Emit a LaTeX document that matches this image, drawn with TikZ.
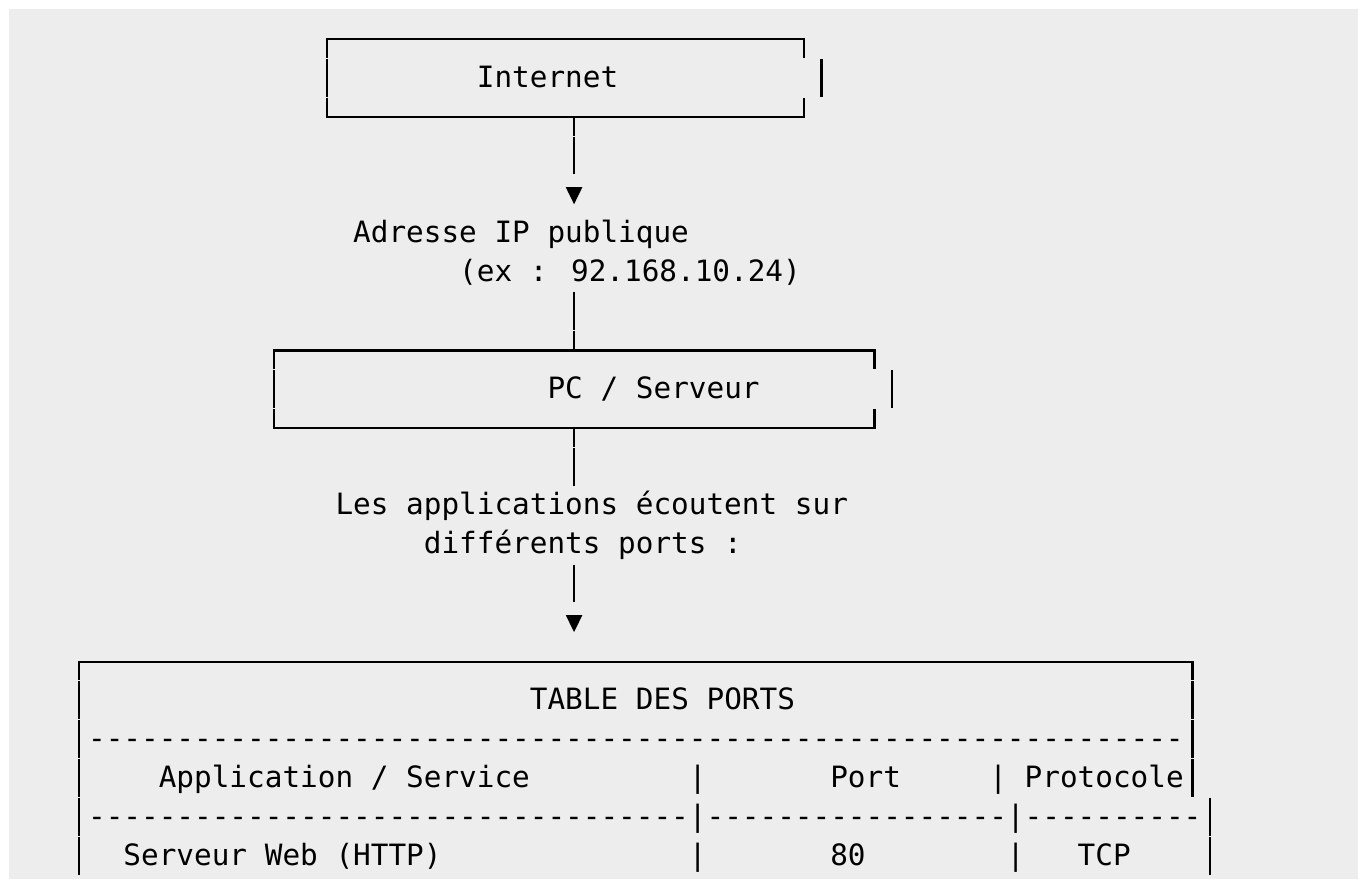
\documentclass[tikz,border=0pt]{standalone}
\usepackage{fontspec}
\newfontfamily\dvsmono{DejaVu Sans Mono}
\definecolor{bgray}{RGB}{237,237,237}
% grid helpers (pixel units, y downward)
\newcommand\cx[1]{(79.3+17.67*(#1))}
\newcommand\tlx[1]{(70.47+17.67*(#1))}
\newcommand\hy[1]{(39.3+38.9*(#1))}
\newcommand\by[1]{(48.1+38.9*(#1))}
\newcount\dcnt
\newcommand\dashrun[1]{\dcnt=#1\relax\loop\ifnum\dcnt>0 \mbox{-}\advance\dcnt by -1 \repeat}
\tikzset{
  txt/.style={inner sep=0pt, outer sep=0pt, anchor=base west,
              font=\dvsmono\fontsize{14.675pt}{17pt}\selectfont, text=black},
  bx/.style={line width=1.1pt, draw=black, line cap=butt, line join=miter},
  tri/.style={fill=black},
}
\newcommand\vseg[2]{\draw[bx] ({\cx{#1}},{\hy{#2}-19.4}) -- ({\cx{#1}},{\hy{#2}+18.4});}
\newcommand\downtri[2]{\fill[tri] ({\cx{#1}-8.3},{\by{#2}-16.5}) -- ({\cx{#1}+8.3},{\by{#2}-16.5}) -- ({\cx{#1}},{\by{#2}+0.5}) -- cycle;}
\newcommand\txtat[4]{\node[txt] (#1) at ({\tlx{#2}},{\by{#3}}) {#4};}
% box: #1 left col, #2 right col, #3 top row (3 rows), #4 extra bar col
\newcommand\asciibox[4]{%
  \draw[bx] ({\cx{#1}},{\hy{#3}+18.4}) -- ({\cx{#1}},{\hy{#3}}) -- ({\cx{#2}},{\hy{#3}}) -- ({\cx{#2}},{\hy{#3}+18.4});
  \vseg{#1}{#3+1}
  \vseg{#4}{#3+1}
  \draw[bx] ({\cx{#1}},{\hy{#3+2}-19.4}) -- ({\cx{#1}},{\hy{#3+2}}) -- ({\cx{#2}},{\hy{#3+2}}) -- ({\cx{#2}},{\hy{#3+2}-19.4});
}
\begin{document}
\begin{tikzpicture}[x=0.5pt,y=-0.5pt]
\useasboundingbox (0,0) rectangle (1358,879);
\fill[white] (0,0) rectangle (1358,879);
\fill[bgray] (9,9) rectangle (1358,879);
\begin{scope}
\clip (9,9) rectangle (1358,879);
% Internet box
\asciibox{14}{41}{0}{42}
\txtat{internet}{23}{1}{Internet}
% connector Internet -> IP
\coordinate (inetS) at ({\cx{28}},{\hy{2}});
\draw[bx] (inetS) -- ++(0,18.4);
\vseg{28}{3}
\downtri{28}{4}
\txtat{ip}{16}{5}{Adresse IP publique}
\txtat{ipex}{22}{6}{(ex : 92.168.10.24)}
% connector IP -> PC
\vseg{28}{7}
\coordinate (pcN) at ({\cx{28}},{\hy{8}});
\draw[bx] (pcN) -- ++(0,-19.4);
% PC box
\asciibox{11}{45}{8}{46}
\txtat{pc}{27}{9}{PC / Serveur}
% connector PC -> table
\coordinate (pcS) at ({\cx{28}},{\hy{10}});
\draw[bx] (pcS) -- ++(0,18.4);
\vseg{28}{11}
\txtat{apps}{15}{12}{Les applications écoutent sur}
\txtat{apps2}{20}{13}{différents ports :}
\vseg{28}{14}
\downtri{28}{15}
% Table
\draw[bx] ({\cx{0}},{\hy{16}+18.4}) -- ({\cx{0}},{\hy{16}}) -- ({\cx{63}},{\hy{16}}) -- ({\cx{63}},{\hy{16}+18.4});
\foreach \r in {17,...,21} {\vseg{0}{\r}}
\foreach \r in {17,18,19} {\vseg{63}{\r}}
\foreach \r in {20,21} {\vseg{64}{\r}}
\txtat{title}{26}{17}{TABLE DES PORTS}
\txtat{dash1}{1}{18}{\dashrun{62}}
\txtat{hApp}{5}{19}{Application / Service}
\txtat{hs1}{35}{19}{|}
\txtat{hPort}{43}{19}{Port}
\txtat{hs2}{52}{19}{|}
\txtat{hProto}{54}{19}{Protocole}
\txtat{dash2a}{1}{20}{\dashrun{34}}
\txtat{ds1}{35}{20}{|}
\txtat{dash2b}{36}{20}{\dashrun{17}}
\txtat{ds2}{53}{20}{|}
\txtat{dash2c}{54}{20}{\dashrun{10}}
\txtat{rApp}{3}{21}{Serveur Web (HTTP)}
\txtat{rs1}{35}{21}{|}
\txtat{rPort}{43}{21}{80}
\txtat{rs2}{53}{21}{|}
\txtat{rProto}{57}{21}{TCP}
\end{scope}
\end{tikzpicture}
\end{document}
